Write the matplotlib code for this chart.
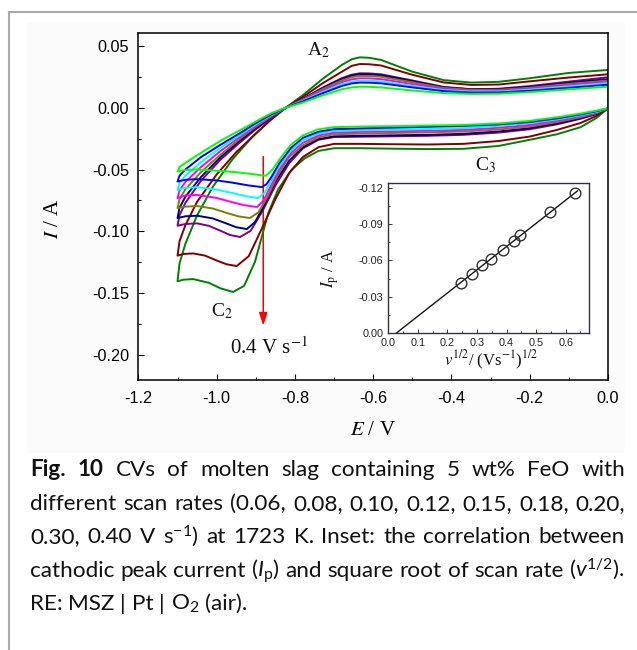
import matplotlib
matplotlib.use('Agg')
import matplotlib.pyplot as plt
import numpy as np
from matplotlib.ticker import MultipleLocator, FuncFormatter
from matplotlib.lines import Line2D
from matplotlib.patches import Rectangle, FancyArrowPatch

plt.rcParams['font.family'] = ['Liberation Sans', 'DejaVu Sans']
plt.rcParams['axes.unicode_minus'] = False
plt.rcParams['mathtext.fontset'] = 'custom'
plt.rcParams['mathtext.rm'] = 'Lato'
plt.rcParams['mathtext.it'] = 'Lato:italic'
plt.rcParams['mathtext.bf'] = 'Lato:bold'

# ---------------- data ----------------
SCAN_RATES = [0.06, 0.08, 0.10, 0.12, 0.15, 0.18, 0.20, 0.30, 0.40]
COLORS = ['#00ff00', '#0000ff', '#00ffff', '#ff00ff', '#808000',
          '#000080', '#800080', '#800000', '#008000']

# cathodic sweep, plateau part (0 V -> -0.7 V)
CAT_E = [0.0, -0.03, -0.07, -0.13, -0.2, -0.28, -0.37, -0.46, -0.55, -0.63, -0.7]
CAT_I = [
    [-0.0005, -0.0025, -0.0048, -0.0078, -0.0107, -0.0128, -0.0140, -0.0145, -0.0150, -0.0153, -0.0158],
    [-0.0005, -0.0030, -0.0055, -0.0087, -0.0116, -0.0136, -0.0148, -0.0155, -0.0162, -0.0168, -0.0174],
    [-0.0005, -0.0035, -0.0062, -0.0095, -0.0124, -0.0148, -0.0166, -0.0173, -0.0178, -0.0183, -0.0188],
    [-0.0005, -0.0040, -0.0070, -0.0105, -0.0140, -0.0163, -0.0180, -0.0187, -0.0192, -0.0196, -0.0201],
    [-0.0005, -0.0045, -0.0078, -0.0117, -0.0153, -0.0177, -0.0193, -0.0200, -0.0205, -0.0210, -0.0215],
    [-0.0005, -0.0050, -0.0086, -0.0128, -0.0166, -0.0193, -0.0212, -0.0220, -0.0224, -0.0228, -0.0232],
    [-0.0005, -0.0053, -0.0090, -0.0135, -0.0175, -0.0202, -0.0220, -0.0228, -0.0232, -0.0235, -0.0238],
    [-0.0005, -0.0068, -0.0124, -0.0180, -0.0234, -0.0270, -0.0293, -0.0298, -0.0296, -0.0293, -0.0293],
    [-0.0005, -0.0085, -0.0158, -0.0215, -0.0260, -0.0310, -0.0333, -0.0335, -0.0332, -0.0328, -0.0328],
]

# cathodic sweep, peak C2 part (-0.74 V -> -1.1 V)
DROP_E = [
    [-0.74, -0.78, -0.81, -0.835, -0.855, -0.868, -0.877, -0.91, -0.95, -1.0, -1.05, -1.08, -1.1],
    [-0.74, -0.78, -0.81, -0.84, -0.86, -0.873, -0.885, -0.92, -0.96, -1.0, -1.05, -1.08, -1.1],
    [-0.74, -0.78, -0.81, -0.84, -0.862, -0.878, -0.894, -0.925, -0.96, -1.0, -1.05, -1.08, -1.1],
    [-0.74, -0.78, -0.81, -0.84, -0.863, -0.88, -0.897, -0.93, -0.965, -1.0, -1.05, -1.08, -1.1],
    [-0.74, -0.78, -0.815, -0.845, -0.87, -0.893, -0.915, -0.945, -0.975, -1.01, -1.05, -1.08, -1.1],
    [-0.74, -0.78, -0.815, -0.85, -0.877, -0.902, -0.923, -0.95, -0.98, -1.01, -1.05, -1.08, -1.1],
    [-0.74, -0.78, -0.815, -0.85, -0.882, -0.913, -0.94, -0.965, -0.99, -1.02, -1.05, -1.08, -1.1],
    [-0.74, -0.78, -0.815, -0.85, -0.885, -0.918, -0.949, -0.975, -1.0, -1.03, -1.06, -1.085, -1.1],
    [-0.74, -0.775, -0.808, -0.843, -0.868, -0.902, -0.93, -0.958, -0.99, -1.02, -1.06, -1.085, -1.1],
]
DROP_I = [
    [-0.0175, -0.0225, -0.0300, -0.0400, -0.0490, -0.0535, -0.0551, -0.0536, -0.0522, -0.0510, -0.0500, -0.0504, -0.0516],
    [-0.0195, -0.0245, -0.0325, -0.0450, -0.0560, -0.0620, -0.0642, -0.0628, -0.0606, -0.0588, -0.0578, -0.0583, -0.0597],
    [-0.0210, -0.0265, -0.0345, -0.0475, -0.0600, -0.0690, -0.0731, -0.0716, -0.0690, -0.0663, -0.0643, -0.0648, -0.0664],
    [-0.0225, -0.0285, -0.0365, -0.0500, -0.0640, -0.0750, -0.0803, -0.0788, -0.0760, -0.0730, -0.0705, -0.0710, -0.0731],
    [-0.0240, -0.0305, -0.0400, -0.0550, -0.0720, -0.0845, -0.0892, -0.0878, -0.0850, -0.0815, -0.0795, -0.0800, -0.0811],
    [-0.0255, -0.0320, -0.0430, -0.0600, -0.0780, -0.0925, -0.0981, -0.0966, -0.0930, -0.0895, -0.0873, -0.0878, -0.0892],
    [-0.0260, -0.0330, -0.0450, -0.0630, -0.0830, -0.0995, -0.1045, -0.1030, -0.0995, -0.0955, -0.0935, -0.0940, -0.0954],
    [-0.0320, -0.0400, -0.0530, -0.0740, -0.0980, -0.1200, -0.1280, -0.1265, -0.1235, -0.1195, -0.1178, -0.1182, -0.1196],
    [-0.0350, -0.0410, -0.0500, -0.0660, -0.0850, -0.1245, -0.1440, -0.1489, -0.1460, -0.1415, -0.1385, -0.1390, -0.1403],
]

# anodic sweep, lower part (-1.1 V -> crossing point)
RET_E = [
    [-1.1, -1.095, -1.08, -1.03, -0.98, -0.93, -0.89, -0.86, -0.823],
    [-1.1, -1.095, -1.08, -1.04, -0.99, -0.94, -0.9, -0.86, -0.823],
    [-1.1, -1.095, -1.08, -1.04, -0.99, -0.94, -0.9, -0.86, -0.823],
    [-1.1, -1.095, -1.08, -1.04, -0.99, -0.94, -0.9, -0.86, -0.823],
    [-1.1, -1.095, -1.08, -1.04, -0.99, -0.94, -0.9, -0.86, -0.823],
    [-1.1, -1.095, -1.08, -1.04, -0.99, -0.94, -0.9, -0.86, -0.823],
    [-1.1, -1.095, -1.08, -1.04, -0.99, -0.94, -0.9, -0.86, -0.823],
    [-1.1, -1.095, -1.08, -1.05, -1.0, -0.95, -0.9, -0.86, -0.823],
    [-1.1, -1.095, -1.08, -1.05, -1.01, -0.96, -0.91, -0.865, -0.823],
]
RET_I = [
    [-0.0516, -0.0480, -0.0447, -0.0345, -0.0250, -0.0165, -0.0095, -0.0045, 0.0],
    [-0.0597, -0.0550, -0.0500, -0.0400, -0.0300, -0.0205, -0.0125, -0.0055, 0.0],
    [-0.0664, -0.0610, -0.0550, -0.0440, -0.0325, -0.0220, -0.0135, -0.0060, 0.0],
    [-0.0731, -0.0670, -0.0600, -0.0480, -0.0350, -0.0235, -0.0145, -0.0065, 0.0],
    [-0.0811, -0.0740, -0.0660, -0.0520, -0.0380, -0.0250, -0.0155, -0.0070, 0.0],
    [-0.0892, -0.0810, -0.0720, -0.0560, -0.0400, -0.0265, -0.0165, -0.0075, 0.0],
    [-0.0954, -0.0870, -0.0770, -0.0590, -0.0420, -0.0280, -0.0175, -0.0080, 0.0],
    [-0.1196, -0.1080, -0.0950, -0.0760, -0.0540, -0.0360, -0.0210, -0.0095, 0.0],
    [-0.1403, -0.1260, -0.1100, -0.0870, -0.0640, -0.0420, -0.0240, -0.0105, 0.0],
]

# anodic sweep, upper part with peak A2 (-0.78 V -> 0 V)
AN_E = [-0.78, -0.73, -0.68, -0.655, -0.634, -0.61, -0.58, -0.5, -0.42, -0.35, -0.28, -0.2, -0.1, 0.0]
AN_I = [
    [0.0040, 0.0098, 0.0148, 0.0163, 0.0169, 0.0168, 0.0163, 0.0138, 0.0117, 0.0110, 0.0112, 0.0125, 0.0147, 0.0169],
    [0.0050, 0.0115, 0.0175, 0.0195, 0.0202, 0.0201, 0.0196, 0.0163, 0.0133, 0.0121, 0.0122, 0.0136, 0.0160, 0.0185],
    [0.0055, 0.0125, 0.0190, 0.0210, 0.0218, 0.0217, 0.0212, 0.0175, 0.0142, 0.0130, 0.0130, 0.0145, 0.0172, 0.0198],
    [0.0060, 0.0137, 0.0205, 0.0228, 0.0237, 0.0236, 0.0230, 0.0190, 0.0151, 0.0137, 0.0137, 0.0153, 0.0182, 0.0210],
    [0.0065, 0.0148, 0.0220, 0.0246, 0.0256, 0.0255, 0.0249, 0.0204, 0.0158, 0.0143, 0.0143, 0.0160, 0.0191, 0.0218],
    [0.0068, 0.0155, 0.0230, 0.0258, 0.0269, 0.0268, 0.0261, 0.0213, 0.0163, 0.0147, 0.0148, 0.0167, 0.0200, 0.0230],
    [0.0070, 0.0160, 0.0238, 0.0266, 0.0277, 0.0276, 0.0269, 0.0219, 0.0167, 0.0149, 0.0152, 0.0174, 0.0210, 0.0245],
    [0.0085, 0.0195, 0.0290, 0.0337, 0.0352, 0.0350, 0.0340, 0.0265, 0.0203, 0.0183, 0.0186, 0.0212, 0.0243, 0.0269],
    [0.0100, 0.0230, 0.0345, 0.0390, 0.0406, 0.0402, 0.0385, 0.0290, 0.0222, 0.0202, 0.0208, 0.0237, 0.0280, 0.0304],
]

# inset: cathodic peak current vs square root of scan rate
SQRT_V = [0.245, 0.283, 0.316, 0.346, 0.387, 0.424, 0.447, 0.548, 0.632]
IP = [-0.0418, -0.0490, -0.0559, -0.0611, -0.0688, -0.0757, -0.0806, -0.0996, -0.1160]

CAPTION_LINES = [
    [("Fig.", "bold"), ("10", "bold"), ("CVs", "normal"), ("of", "normal"), ("molten", "normal"),
     ("slag", "normal"), ("containing", "normal"), ("5", "normal"), ("wt%", "normal"),
     ("FeO", "normal"), ("with", "normal")],
    [(w, "normal") for w in ["different", "scan", "rates", "(0.06,", "0.08,", "0.10,", "0.12,",
                             "0.15,", "0.18,", "0.20,"]],
    [(w, "normal") for w in ["0.30,", "0.40", "V", r"s$^{-1}$)", "at", "1723", "K.", "Inset:",
                             "the", "correlation", "between"]],
    [(w, "normal") for w in ["cathodic", "peak", "current", r"($\mathit{I}_{\mathrm{p}}$)", "and",
                             "square", "root", "of", "scan", "rate", r"($\mathit{v}^{1/2}$)."]],
    [(w, "normal") for w in ["RE:", "MSZ", "|", "Pt", "|", r"O$_{2}$", "(air)."]],
]

# ---------------- figure ----------------
W, H = 637, 650
fig = plt.figure(figsize=(W / 100, H / 100), dpi=100)
fig.patch.set_facecolor('white')


def fx(px):
    return px / W


def fy(py):
    return 1 - py / H


# page decorations
fig.add_artist(Rectangle((fx(27), fy(453)), fx(625) - fx(27), fy(22) - fy(453),
                         transform=fig.transFigure, facecolor='#fbfbfb',
                         edgecolor='none', zorder=0))
fig.add_artist(Line2D([fx(9), fx(9)], [fy(12), 0], transform=fig.transFigure,
                      color='#aaaaaa', lw=1.5))
fig.add_artist(Line2D([fx(9), 1], [fy(12), fy(12)], transform=fig.transFigure,
                      color='#aaaaaa', lw=1.5))

# main axes
ax = fig.add_axes([fx(138.4), fy(380), (608 - 138.4) / W, (380 - 33.3) / H])
ax.set_facecolor('white')
for k in reversed(range(len(SCAN_RATES))):
    E = CAT_E + DROP_E[k] + RET_E[k] + AN_E + [CAT_E[0]]
    I = CAT_I[k] + DROP_I[k] + RET_I[k] + AN_I[k] + [CAT_I[k][0]]
    ax.plot(E, I, color=COLORS[k], lw=1.4, solid_joinstyle='round')

ax.set_xlim(-1.2, 0.0)
ax.set_ylim(-0.22, 0.06)
ax.xaxis.set_major_locator(MultipleLocator(0.2))
ax.xaxis.set_minor_locator(MultipleLocator(0.1))
ax.yaxis.set_major_locator(MultipleLocator(0.05))
ax.yaxis.set_minor_locator(MultipleLocator(0.025))
ax.xaxis.set_major_formatter(FuncFormatter(lambda v, p: '%.1f' % (round(v, 4) + 0.0)))
ax.yaxis.set_major_formatter(FuncFormatter(lambda v, p: '%.2f' % (round(v, 4) + 0.0)))
ax.tick_params(which='both', direction='in', top=False, right=False, colors='black')
ax.tick_params(which='major', length=4.0, width=0.8, labelsize=11.7)
ax.tick_params(which='minor', length=2.2, width=0.8)
ax.tick_params(axis='x', pad=8)
ax.tick_params(axis='y', pad=6.5)
for s in ax.spines.values():
    s.set_linewidth(1.1)

ax.set_xlabel(r'$E$ / V', family='Liberation Serif', fontsize=15, math_fontfamily='stix')
ax.set_ylabel(r'$I$ / A', family='Liberation Serif', fontsize=15, math_fontfamily='stix')
ax.xaxis.set_label_coords(0.5, -0.118)
ax.yaxis.set_label_coords(-0.1606, 0.464)

serif = dict(family='Liberation Serif', math_fontfamily='stix', color='#111111')
ax.text(-0.770, 0.0425, r'A$_2$', fontsize=14, ha='left', va='baseline', **serif)
ax.text(-1.015, -0.1685, r'C$_2$', fontsize=14, ha='left', va='baseline', **serif)
ax.text(-0.339, -0.051, r'C$_3$', fontsize=14, ha='left', va='baseline', **serif)
ax.text(-0.966, -0.1994, r'0.4 V s$^{-1}$', fontsize=15, ha='left', va='baseline', **serif)

arrow = FancyArrowPatch((-0.881, -0.0395), (-0.881, -0.176),
                        arrowstyle='-|>,head_length=0.75,head_width=0.25',
                        mutation_scale=10, color='#ff0000', lw=1.1,
                        shrinkA=0, shrinkB=0)
ax.add_patch(arrow)

# inset
axin = fig.add_axes([fx(388.3), fy(333.3), 201 / W, 150 / H])
axin.set_facecolor('white')
slope, icpt = np.polyfit(SQRT_V, IP, 1)
x_fit = np.array([-icpt / slope, SQRT_V[-1] + 0.008])
axin.plot(x_fit, slope * x_fit + icpt, color='#151515', lw=1.0)
axin.plot(SQRT_V, IP, 'o', mfc='none', mec='#303030', ms=7.7, mew=1.0)
axin.set_xlim(0, 0.68)
axin.set_ylim(0, -0.1236)
axin.xaxis.set_major_locator(MultipleLocator(0.1))
axin.xaxis.set_minor_locator(MultipleLocator(0.05))
axin.yaxis.set_major_locator(MultipleLocator(0.03))
axin.yaxis.set_minor_locator(MultipleLocator(0.015))
axin.xaxis.set_major_formatter(FuncFormatter(lambda v, p: '%.1f' % (round(v, 4) + 0.0)))
axin.yaxis.set_major_formatter(FuncFormatter(lambda v, p: '%.2f' % (round(v, 4) + 0.0)))
axin.tick_params(which='both', direction='in', top=False, right=False, colors='#333340')
axin.tick_params(which='major', length=3.0, width=0.7, labelsize=7.8, labelcolor='#222222')
axin.tick_params(which='minor', length=1.6, width=0.7)
axin.tick_params(axis='both', pad=3.5)
for s in axin.spines.values():
    s.set_linewidth(1.0)
    s.set_color('#333340')
axin.set_xlabel(r'$v^{1/2}$/ (Vs$^{-1}$)$^{1/2}$', fontsize=12, **serif)
axin.set_ylabel(r'$I_{\mathrm{p}}$ / A', fontsize=12, **serif)
axin.xaxis.set_label_coords(0.51, -0.10)
axin.yaxis.set_label_coords(-0.235, 0.435)

# ---------------- caption ----------------
renderer = fig.canvas.get_renderer()
CAP_FAMILY = 'Lato'
CAP_COLOR = '#111111'


def text_width(s, size, weight='normal'):
    t = fig.text(0, 0, s, fontsize=size, fontweight=weight, family=CAP_FAMILY)
    w = t.get_window_extent(renderer).width
    t.remove()
    return w


w2 = text_width(' '.join(w for w, _ in CAPTION_LINES[1]), 10)
w4 = text_width(' '.join(w for w, _ in CAPTION_LINES[3]), 10)
cap_size = 10 * 592 / max(w2, w4)
space_w = text_width('a a', cap_size) - text_width('aa', cap_size)

CAP_X0, CAP_X1 = 30, 625
CAP_BASE = [476, 510, 543, 577, 610]
for li, words in enumerate(CAPTION_LINES):
    widths = [text_width(w, cap_size, wt) for w, wt in words]
    if li < len(CAPTION_LINES) - 1:
        gap = (CAP_X1 - CAP_X0 - sum(widths)) / (len(words) - 1)
    else:
        gap = space_w
    x = CAP_X0
    for (w, wt), wd in zip(words, widths):
        fig.text(fx(x), fy(CAP_BASE[li]), w, fontsize=cap_size, fontweight=wt,
                 family=CAP_FAMILY, color=CAP_COLOR, ha='left', va='baseline')
        x += wd + gap

fig.savefig('out.png', dpi=100)
